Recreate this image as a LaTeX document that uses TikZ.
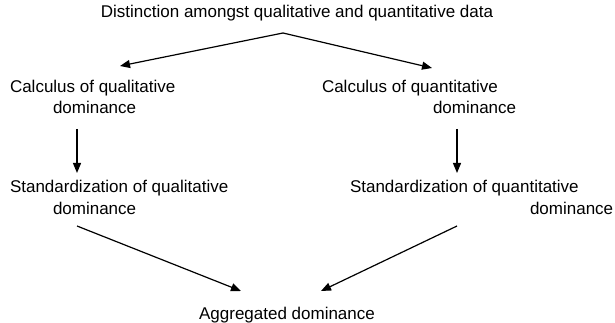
\documentclass[tikz,border=0pt]{standalone}
\usepackage{fontspec}
\setmainfont{Liberation Sans}
\usetikzlibrary{arrows.meta}
\begin{document}
\begin{tikzpicture}[x=1pt,y=-1pt,
  lbl/.style={inner sep=0pt,outer sep=0pt,anchor=base west,font=\fontsize{17}{21}\selectfont,align=left},
  arr/.style={line width=1.2pt,-{Triangle[length=10pt,width=8pt]}}]
\useasboundingbox (0,0) rectangle (615,323);
\node[lbl,anchor=base] (title) at (297,18) {Distinction amongst qualitative and quantitative data};
\node[lbl] (cl) at (10,114) {Calculus of qualitative\\\hspace*{43pt}dominance};
\node[lbl] (cq) at (322,114) {Calculus of quantitative\\\hspace*{111pt}dominance};
\node[lbl] (sq) at (350,214) {Standardization of quantitative\\\hspace*{180pt}dominance};
\node[lbl] (sl) at (10,214) {Standardization of qualitative\\\hspace*{43pt}dominance};
\node[lbl,anchor=base] (ag) at (287,319) {Aggregated dominance};
\coordinate (top) at (283,33);
\coordinate (clin) at (120,66);
\coordinate (cqin) at (432,68);
\coordinate (clout) at (77,129);
\coordinate (slin) at (77,173);
\coordinate (cqout) at (457,129);
\coordinate (sqin) at (457,173);
\coordinate (slout) at (77,226);
\coordinate (sqout) at (457,226);
\coordinate (agl) at (241,291);
\coordinate (agr) at (321,291);
\draw[arr] (top) -- (clin);
\draw[arr] (top) -- (cqin);
\draw[arr] (clout) -- (slin);
\draw[arr] (cqout) -- (sqin);
\draw[arr] (slout) -- (agl);
\draw[arr] (sqout) -- (agr);
\end{tikzpicture}
\end{document}
